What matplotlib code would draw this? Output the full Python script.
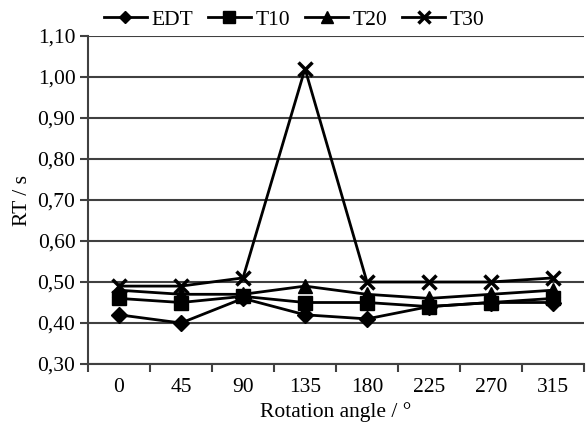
import matplotlib
matplotlib.use("Agg")
import matplotlib.pyplot as plt
from matplotlib.ticker import FixedLocator, FuncFormatter

plt.rcParams['font.family'] = ['Liberation Serif', 'DejaVu Serif']

angles = ["0", "45", "90", "135", "180", "225", "270", "315"]
edt = [0.42, 0.40, 0.46, 0.42, 0.41, 0.44, 0.45, 0.45]
t10 = [0.46, 0.45, 0.465, 0.45, 0.45, 0.44, 0.45, 0.46]
t20 = [0.48, 0.47, 0.47, 0.49, 0.47, 0.46, 0.47, 0.48]
t30 = [0.49, 0.49, 0.51, 1.02, 0.50, 0.50, 0.50, 0.51]
yticks = [0.30, 0.40, 0.50, 0.60, 0.70, 0.80, 0.90, 1.00, 1.10]

FS = 15.5

fig = plt.figure(figsize=(5.88, 4.29), dpi=100)
ax = fig.add_axes([88/588, 1 - 364/429, (584-88)/588, (364-36)/429])

x = list(range(len(angles)))
ax.plot(x, edt, color='black', lw=2, marker='D', ms=8, label='EDT', zorder=3)
ax.plot(x, t10, color='black', lw=2, marker='s', ms=10, label='T10', zorder=3)
ax.plot(x, t20, color='black', lw=2, marker='^', ms=10, label='T20', zorder=3)
ax.plot(x, t30, color='black', lw=2, marker='x', ms=10, mew=2.5, label='T30', zorder=3)

ax.set_xlim(-0.5, len(angles) - 0.5)
ax.set_ylim(0.30, 1.10)
ax.set_yticks(yticks)
ax.yaxis.set_major_formatter(FuncFormatter(lambda v, p: f"{v:.2f}".replace('.', ',')))
ax.set_xticks(x)
ax.set_xticklabels(angles)
ax.xaxis.set_minor_locator(FixedLocator([i - 0.5 for i in range(len(angles) + 1)]))
ax.tick_params(axis='x', which='major', length=0, pad=10, labelsize=FS)
ax.tick_params(axis='x', which='minor', length=6, width=1.5, color='#404040')
ax.tick_params(axis='y', length=6, width=1.5, color='#404040', labelsize=FS, pad=3)

ax.grid(axis='y', color='#404040', lw=1.5, zorder=0)
for s in ['top', 'right']:
    ax.spines[s].set_visible(False)
ax.spines['left'].set_color('#404040')
ax.spines['left'].set_linewidth(1.5)
ax.spines['bottom'].set_color('#404040')
ax.spines['bottom'].set_linewidth(1.5)

ax.set_xlabel('Rotation angle / °', fontsize=FS, labelpad=4)
ax.set_ylabel('RT / s', fontsize=FS, labelpad=4)

fig.legend(loc='upper center', bbox_to_anchor=(0.5, 1.022), ncol=4, frameon=False,
           fontsize=FS, handlelength=2.0, columnspacing=0.7, handletextpad=0.2,
           markerscale=0.8)

fig.savefig('out.png', dpi=100)
